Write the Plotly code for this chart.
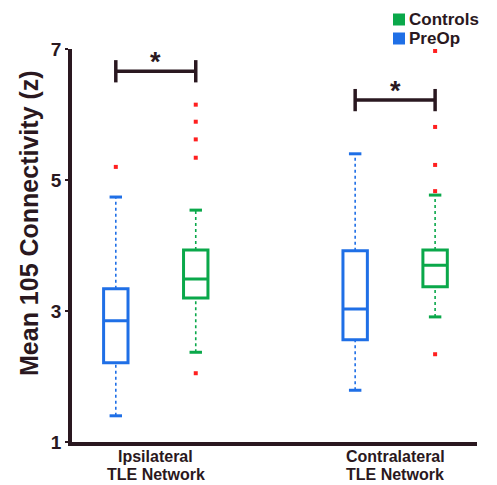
import plotly.graph_objects as go

# Group layout
groups = ["Ipsilateral", "Contralateral"]
group_lines = [["Ipsilateral", "TLE Network"], ["Contralateral", "TLE Network"]]
series = ["PreOp", "Controls"]
legend_order = ["Controls", "PreOp"]
colors = {"PreOp": "#1f6fe6", "Controls": "#0aa84a"}

# Box summary statistics (z), one value per group
preop_lo = [1.40, 1.79]
preop_q1 = [2.21, 2.56]
preop_med = [2.85, 3.03]
preop_q3 = [3.34, 3.92]
preop_hi = [4.74, 5.40]
preop_out = [[5.20], []]

ctrl_lo = [2.37, 2.91]
ctrl_q1 = [3.20, 3.37]
ctrl_med = [3.49, 3.70]
ctrl_q3 = [3.93, 3.93]
ctrl_hi = [4.54, 4.77]
ctrl_out = [[2.05, 5.34, 5.62, 5.89, 6.15], [2.34, 4.83, 5.23, 5.81, 6.97]]

# Significance brackets between PreOp and Controls
sig_y = [6.66, 6.22]
sig_label = ["*", "*"]

y_ticks = [1, 3, 5, 7]

ink = "#2a1820"
font = "Liberation Sans, Arial, sans-serif"

# plot area geometry in pixels (used to place paper-referenced items)
H_PLOT = 393.0
W_PLOT = 405.0
LEFT, TOP = 72, 49


def px_x(p):
    return (p - LEFT) / W_PLOT


def px_y(p):
    return (TOP + H_PLOT - p) / H_PLOT


offset = 0.167
box_w = 0.102
cap_w = 0.026
bracket_h = 0.17

stats = {
    "PreOp": (preop_lo, preop_q1, preop_med, preop_q3, preop_hi, preop_out, -offset),
    "Controls": (ctrl_lo, ctrl_q1, ctrl_med, ctrl_q3, ctrl_hi, ctrl_out, offset),
}

fig = go.Figure()

for name in series:
    lo, q1, med, q3, hi, outs, dx = stats[name]
    col = colors[name]
    xs = [i + 1 + dx for i in range(len(groups))]
    # dotted whiskers
    wx, wy = [], []
    for x, a, b, c, d in zip(xs, lo, q1, q3, hi):
        wx += [x, x, None, x, x, None]
        wy += [a, b, None, c, d, None]
    fig.add_trace(go.Scatter(x=wx, y=wy, mode="lines", showlegend=False, hoverinfo="skip",
                             line=dict(color=col, width=1.6, dash="3px,3px")))
    # whisker caps
    cx, cy = [], []
    for x, a, d in zip(xs, lo, hi):
        cx += [x - cap_w, x + cap_w, None, x - cap_w, x + cap_w, None]
        cy += [a, a, None, d, d, None]
    fig.add_trace(go.Scatter(x=cx, y=cy, mode="lines", showlegend=False, hoverinfo="skip",
                             line=dict(color=col, width=3)))
    # boxes
    fig.add_trace(go.Box(x=xs, q1=q1, median=med, q3=q3, lowerfence=q1, upperfence=q3,
                         width=box_w, whiskerwidth=0, boxpoints=False, showlegend=False,
                         name=name, fillcolor="white", line=dict(color=col, width=3)))
    # outliers
    ox, oy = [], []
    for x, pts in zip(xs, outs):
        ox += [x] * len(pts)
        oy += pts
    fig.add_trace(go.Scatter(x=ox, y=oy, mode="markers", showlegend=False,
                             marker=dict(symbol="square", size=4, color="#ff1f1f")))

# significance brackets
for i, (yb, lab) in enumerate(zip(sig_y, sig_label)):
    x0, x1 = i + 1 - offset, i + 1 + offset
    fig.add_trace(go.Scatter(
        x=[x0, x1, None, x0, x0, None, x1, x1],
        y=[yb, yb, None, yb - bracket_h, yb + bracket_h, None, yb - bracket_h, yb + bracket_h],
        mode="lines", showlegend=False, hoverinfo="skip",
        line=dict(color=ink, width=3.5)))
    fig.add_annotation(x=i + 1, y=yb - 0.125, text="<b>%s</b>" % lab, showarrow=False,
                       yanchor="bottom", font=dict(size=27, color=ink, family=font))

# group labels under the axis
for i, lines in enumerate(group_lines):
    for k, line in enumerate(lines):
        fig.add_annotation(x=i + 1, xref="x", y=px_y(456.5 + 18.2 * k), yref="paper",
                           text="<b>%s</b>" % line, showarrow=False, yanchor="middle",
                           font=dict(size=16, color=ink, family=font))

# y-axis title
fig.add_annotation(x=px_x(28.5), xref="paper", y=px_y(223.5), yref="paper", textangle=-90,
                   text="<b>Mean 105 Connectivity (z)</b>", showarrow=False,
                   xanchor="center", yanchor="middle",
                   font=dict(size=25, color=ink, family=font))

# legend: colour swatch + label
for k, name in enumerate(legend_order):
    yc = 19.5 + 19 * k
    fig.add_shape(type="rect", xref="paper", yref="paper", x0=px_x(393), x1=px_x(405),
                  y0=px_y(yc + 6), y1=px_y(yc - 6), fillcolor=colors[name], line=dict(width=0))
    fig.add_annotation(x=px_x(407), xref="paper", y=px_y(yc), yref="paper",
                       text="<b>%s</b>" % name, showarrow=False, xanchor="left",
                       yanchor="middle", font=dict(size=17, color=ink, family=font))

fig.update_layout(
    width=497, height=485,
    margin=dict(l=LEFT, r=20, t=TOP, b=43, autoexpand=False),
    paper_bgcolor="white", plot_bgcolor="white",
    boxmode="overlay", showlegend=False,
    font=dict(family=font, color=ink),
    xaxis=dict(range=[0.650, 2.342], showgrid=False, zeroline=False, showticklabels=False,
               ticks="", showline=True, linecolor=ink, linewidth=3.5),
    yaxis=dict(range=[1, 7], tickvals=y_ticks, ticktext=["<b>%d</b>" % v for v in y_ticks],
               showgrid=False, zeroline=False, showline=True, linecolor=ink, linewidth=3.5,
               ticks="outside", ticklen=3, tickwidth=2, tickcolor=ink,
               tickfont=dict(size=19, color=ink, family=font)),
)

fig.write_html("out.html")
